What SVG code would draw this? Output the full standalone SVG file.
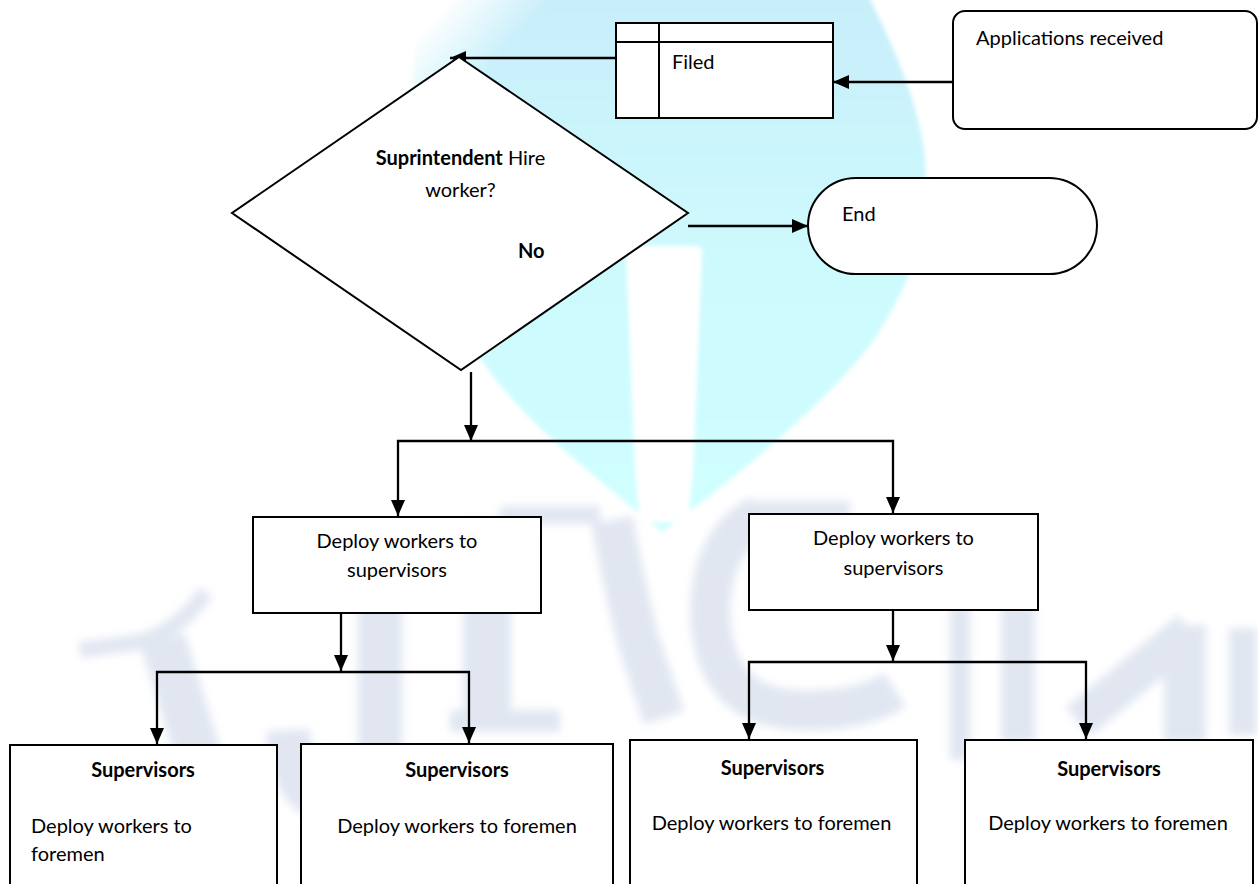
<svg xmlns="http://www.w3.org/2000/svg" width="1258" height="884" viewBox="0 0 1258 884">
  <defs>
    <style>
      .box { fill: #ffffff; stroke: #000000; stroke-width: 2; }
      .div { fill: none; stroke: #000000; stroke-width: 2; }
      .conn { fill: none; stroke: #000000; stroke-width: 2.3; }
      .t { font-family: Lato, "Liberation Sans", sans-serif; font-size: 20px; fill: #000000; }
      .b { font-weight: bold; }
      .c { text-anchor: middle; }
      .wm { fill: none; stroke: #d3dbeb; stroke-linecap: butt; stroke-linejoin: round; }
    </style>
    <marker id="arrow" markerUnits="userSpaceOnUse" markerWidth="16" markerHeight="14" refX="16" refY="7" orient="auto">
      <path d="M0,0 L16,7 L0,14 Z" fill="#000000"/>
    </marker>
    <linearGradient id="cyanFill" x1="0" y1="0" x2="0" y2="1">
      <stop offset="0" stop-color="#c8eefa"/>
      <stop offset="0.45" stop-color="#cdf9fd"/>
      <stop offset="1" stop-color="#d0ffff"/>
    </linearGradient>
    <linearGradient id="fadeLeft" gradientUnits="userSpaceOnUse" x1="440" y1="10" x2="496" y2="61">
      <stop offset="0" stop-color="#ffffff" stop-opacity="1"/>
      <stop offset="1" stop-color="#ffffff" stop-opacity="0"/>
    </linearGradient>
    <filter id="soft" x="-10%" y="-10%" width="120%" height="120%">
      <feGaussianBlur stdDeviation="2"/>
    </filter>
    <filter id="softer" x="-10%" y="-10%" width="120%" height="120%">
      <feGaussianBlur stdDeviation="4"/>
    </filter>
  </defs>

  <rect x="0" y="0" width="1258" height="884" fill="#ffffff"/>

  <!-- background emblem -->
  <g id="watermark">
    <g filter="url(#soft)">
      <path fill="url(#cyanFill)" d="M425,-5 L868,-5 C895,50 928,120 926,185 C924,250 905,290 880,330 C850,380 760,460 662,532 C600,480 520,420 478,355 C440,290 410,200 412,120 C413,60 418,20 425,-5 Z"/>
      <path fill="#ffffff" d="M626,252 Q626,246 632,246 L696,246 Q702,246 702,252 L693,470 L688,522 L640,522 L635,470 Z"/>
      <path fill="url(#fadeLeft)" d="M380,-5 L570,-5 L480,120 L380,190 Z"/>
    </g>
    <g filter="url(#softer)" opacity="0.68">
      <!-- I -->
      <path class="wm" stroke-width="16" d="M80,650 L140,642 Q180,630 206,592"/>
      <path class="wm" stroke-width="46" d="M163,640 L212,800"/>
      <!-- J -->
      <path class="wm" stroke-width="44" d="M380,605 L380,760 Q376,800 330,800 Q292,798 288,730"/>
      <!-- R -->
      <path class="wm" stroke-width="48" d="M487,520 L487,722"/>
      <path class="wm" stroke-width="22" d="M450,721 L560,721"/>
      <path class="wm" stroke-width="18" d="M500,515 L600,515"/>
      <path class="wm" stroke-width="42" d="M612,520 Q622,575 638,640 L664,718"/>
      <!-- C -->
      <path class="wm" stroke-width="16" d="M752,509 L850,509"/>
      <path class="wm" stroke-width="40" d="M760,515 Q712,540 710,610 Q712,708 800,710 Q860,712 895,690"/>
      <!-- M -->
      <path class="wm" stroke-width="20" d="M960,605 L960,760"/>
      <path class="wm" stroke-width="34" d="M1018,605 L1018,742"/>
      <path class="wm" stroke-width="38" d="M1078,722 L1190,630"/>
      <path class="wm" stroke-width="42" d="M1185,625 L1185,742"/>
      <path class="wm" stroke-width="28" d="M1243,628 L1243,735"/>
    </g>
  </g>

  <!-- flow lines -->
  <g id="connectors">
    <path class="conn" marker-end="url(#arrow)" d="M953,82 L833,82"/>
    <path class="conn" marker-end="url(#arrow)" d="M616,58 L450,58"/>
    <path class="conn" marker-end="url(#arrow)" d="M688,226 L808,226"/>
    <path class="conn" marker-end="url(#arrow)" d="M471,372 L471,441"/>
    <path class="conn" marker-end="url(#arrow)" d="M471,441 L398,441 L398,516"/>
    <path class="conn" marker-end="url(#arrow)" d="M471,441 L893,441 L893,513"/>
    <path class="conn" marker-end="url(#arrow)" d="M341,613 L341,671"/>
    <path class="conn" marker-end="url(#arrow)" d="M341,672 L157,672 L157,744"/>
    <path class="conn" marker-end="url(#arrow)" d="M341,672 L469,672 L469,743"/>
    <path class="conn" marker-end="url(#arrow)" d="M893,610 L893,661"/>
    <path class="conn" marker-end="url(#arrow)" d="M893,662 L749,662 L749,739"/>
    <path class="conn" marker-end="url(#arrow)" d="M893,662 L1086,662 L1086,739"/>
  </g>

  <g id="applications">
    <rect class="box" x="953" y="11" width="304" height="118" rx="12" ry="12"/>
    <text class="t" x="976" y="45">Applications received</text>
  </g>

  <g id="filed">
    <rect class="box" x="616" y="23" width="217" height="95"/>
    <line class="div" x1="616" y1="42" x2="833" y2="42"/>
    <line class="div" x1="659" y1="23" x2="659" y2="118"/>
    <text class="t" x="672" y="69">Filed</text>
  </g>

  <g id="decision">
    <polygon class="box" stroke-width="1.6" points="459,57 688,213 461,370 232,213"/>
    <text class="t c" x="460.5" y="165"><tspan class="b">Suprintendent</tspan> Hire</text>
    <text class="t c" x="460.5" y="197">worker?</text>
    <text class="t b" x="518" y="258">No</text>
  </g>

  <g id="end">
    <rect class="box" x="808" y="178" width="289" height="96" rx="48" ry="48"/>
    <text class="t" x="842" y="221">End</text>
  </g>

  <g id="deploy-left">
    <rect class="box" x="253" y="517" width="288" height="96"/>
    <text class="t c" x="397" y="548">Deploy workers to</text>
    <text class="t c" x="397" y="577">supervisors</text>
  </g>

  <g id="deploy-right">
    <rect class="box" x="749" y="514" width="289" height="96"/>
    <text class="t c" x="893.5" y="545">Deploy workers to</text>
    <text class="t c" x="893.5" y="575">supervisors</text>
  </g>

  <g id="supervisors-1">
    <rect class="box" x="10" y="745" width="267" height="150"/>
    <text class="t b c" x="143" y="777">Supervisors</text>
    <text class="t" x="31" y="833">Deploy workers to</text>
    <text class="t" x="31" y="861">foremen</text>
  </g>

  <g id="supervisors-2">
    <rect class="box" x="301" y="744" width="312" height="150"/>
    <text class="t b c" x="457" y="777">Supervisors</text>
    <text class="t c" x="457" y="833">Deploy workers to foremen</text>
  </g>

  <g id="supervisors-3">
    <rect class="box" x="630" y="740" width="287" height="150"/>
    <text class="t b c" x="772.5" y="775">Supervisors</text>
    <text class="t c" x="771.5" y="830">Deploy workers to foremen</text>
  </g>

  <g id="supervisors-4">
    <rect class="box" x="965" y="740" width="288" height="150"/>
    <text class="t b c" x="1109" y="776">Supervisors</text>
    <text class="t c" x="1108" y="830">Deploy workers to foremen</text>
  </g>
</svg>
